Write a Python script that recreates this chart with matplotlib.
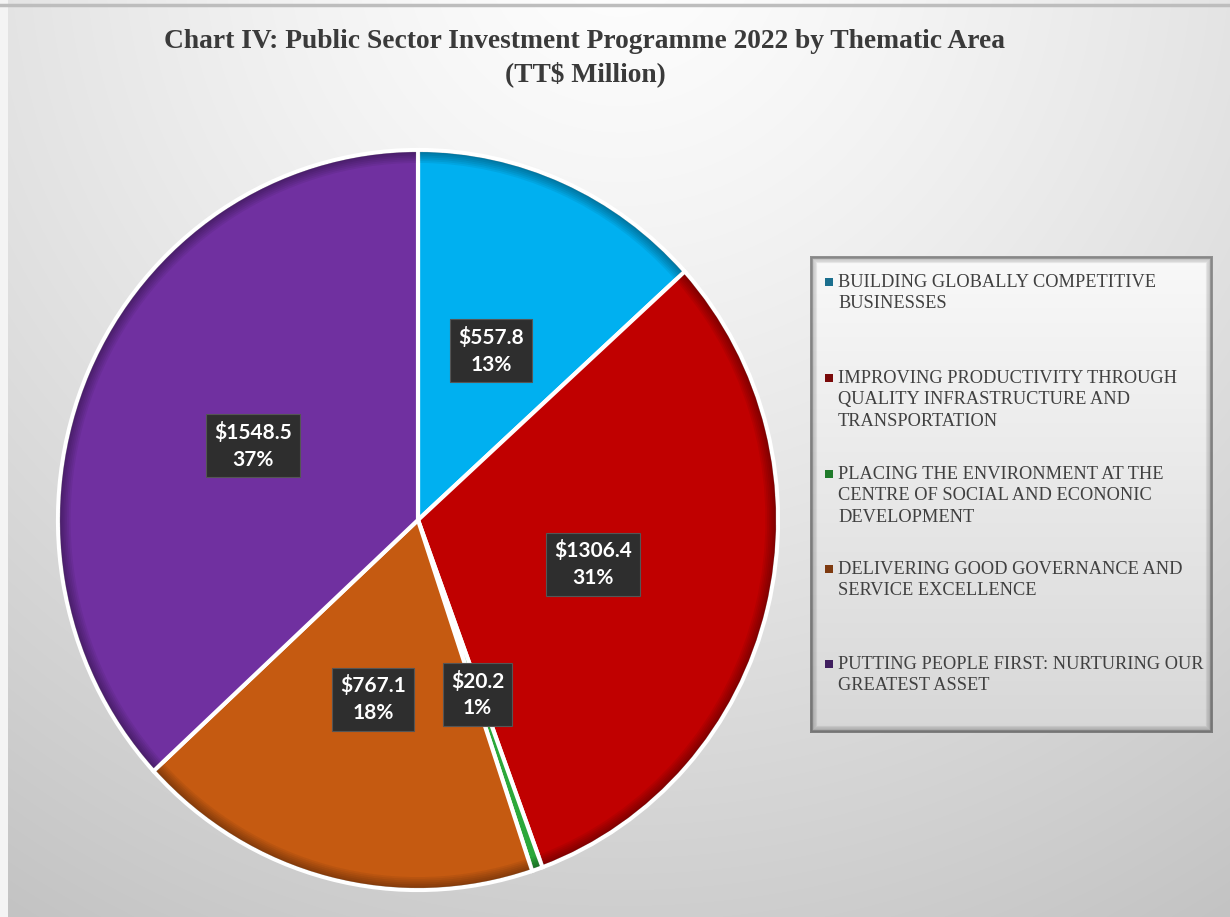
import numpy as np
import matplotlib
matplotlib.use("Agg")
import matplotlib.pyplot as plt
from matplotlib.patches import Rectangle, Wedge

# ---- data ----
categories = [
    "BUILDING GLOBALLY COMPETITIVE\nBUSINESSES",
    "IMPROVING PRODUCTIVITY THROUGH\nQUALITY INFRASTRUCTURE AND\nTRANSPORTATION",
    "PLACING THE ENVIRONMENT AT THE\nCENTRE OF SOCIAL AND ECONONIC\nDEVELOPMENT",
    "DELIVERING GOOD GOVERNANCE AND\nSERVICE EXCELLENCE",
    "PUTTING PEOPLE FIRST: NURTURING OUR\nGREATEST ASSET",
]
values = [557.8, 1306.4, 20.2, 767.1, 1548.5]
percent_labels = ["13%", "31%", "1%", "18%", "37%"]
slice_colors = ["#00B0F0", "#C00000", "#2CA83A", "#C55A11", "#7030A0"]
legend_colors = ["#1B6F8E", "#7A0A0A", "#1F7A2A", "#7E3A10", "#3F1E5E"]
title = "Chart IV: Public Sector Investment Programme 2022 by Thematic Area\n(TT$ Million)"

W, H = 1230, 917
fig = plt.figure(figsize=(W / 100, H / 100), dpi=100)

# ---- background gradient ----
bg = fig.add_axes([0, 0, 1, 1])
yy, xx = np.mgrid[0:H, 0:W]
d = np.sqrt((xx - 620) ** 2 + (yy + 60) ** 2)
t = np.clip(d / 1150.0, 0, 1)
g = 0.995 - 0.23 * t ** 1.3
bg.imshow(np.dstack([g, g, g]), extent=[0, W, H, 0], aspect="auto", interpolation="bilinear")
bg.set_xlim(0, W)
bg.set_ylim(H, 0)
bg.axis("off")
bg.plot([0, W], [5, 5], color="#BDBDBD", lw=2.5)
bg.add_patch(Rectangle((0, 0), 8, H, color="#F4F4F4", lw=0))

# ---- pie ----
cx, cy, rx, ry = 418, 520, 360, 370
ax = fig.add_axes([(cx - rx) / W, (H - cy - ry) / H, 2 * rx / W, 2 * ry / H])
wedges, _ = ax.pie(values, colors=slice_colors, startangle=90, counterclock=False,
                   radius=1.0, wedgeprops=dict(edgecolor="white", linewidth=3))
ax.set_aspect("auto")
ax.set_xlim(-1, 1)
ax.set_ylim(-1, 1)
ax.axis("off")

# subtle inner shading at outer rim
for w in wedges:
    for k in range(6):
        ring = Wedge((0, 0), 0.995, w.theta1 + 0.3, w.theta2 - 0.3,
                     width=0.005 * (k + 1), facecolor="black", alpha=0.06, lw=0, zorder=2)
        ax.add_patch(ring)

# ---- data labels ----
total = sum(values)
start = 90.0
for v, p in zip(values, percent_labels):
    span = v / total * 360.0
    mid = np.deg2rad(start - span / 2)
    start -= span
    x = 0.5 * np.cos(mid)
    y = 0.5 * np.sin(mid)
    ax.text(x, y, f"${v:.1f}\n{p}", ha="center", va="center", color="white",
            fontsize=15, fontweight="bold", family="Lato", linespacing=1.4,
            zorder=5,
            bbox=dict(boxstyle="square,pad=0.38", facecolor="#2E2E2E",
                      edgecolor="#555555", linewidth=0.8))

# ---- title ----
fig.text(585 / W, 1 - 58 / H, title, ha="center", va="center",
         family="Liberation Serif", fontweight="bold", fontsize=19.8,
         color="#3A3A3A", linespacing=1.38)

# ---- legend box ----
lx0, ly0, lx1, ly1 = 810, 256, 1213, 733
lg_ax = fig.add_axes([lx0 / W, 1 - ly1 / H, (lx1 - lx0) / W, (ly1 - ly0) / H])
ly = np.mgrid[0:100, 0:100][0]
gg = 0.975 - 0.13 * (ly / 99.0)
lg_ax.imshow(np.dstack([gg, gg, gg]), extent=[0, 1, 0, 1], aspect="auto", origin="upper")
lg_ax.set_xlim(0, 1)
lg_ax.set_ylim(0, 1)
for k in range(10):
    a = 0.3 * (1 - k / 10.0) ** 1.5
    ex = k * 0.8 / (lx1 - lx0)
    ey = k * 0.8 / (ly1 - ly0)
    lg_ax.add_patch(Rectangle((ex, ey), 1 - 2 * ex, 1 - 2 * ey, fill=False,
                              edgecolor="black", alpha=a, lw=1.2))
lg_ax.axis("off")

entry_y = [282, 378, 474, 569, 664]
for lab, col, ey in zip(categories, legend_colors, entry_y):
    lg_ax.add_patch(Rectangle(((825 - lx0) / (lx1 - lx0), (ly1 - ey - 4) / (ly1 - ly0)),
                              8 / (lx1 - lx0), 8 / (ly1 - ly0),
                              facecolor=col, edgecolor="none", zorder=10))
    lg_ax.text((838 - lx0) / (lx1 - lx0), (ly1 - ey + 8) / (ly1 - ly0), lab,
               ha="left", va="top", family="Liberation Serif",
               fontsize=13.2, color="#404040", linespacing=1.34, zorder=10)

fig.savefig("out.png", dpi=100)
